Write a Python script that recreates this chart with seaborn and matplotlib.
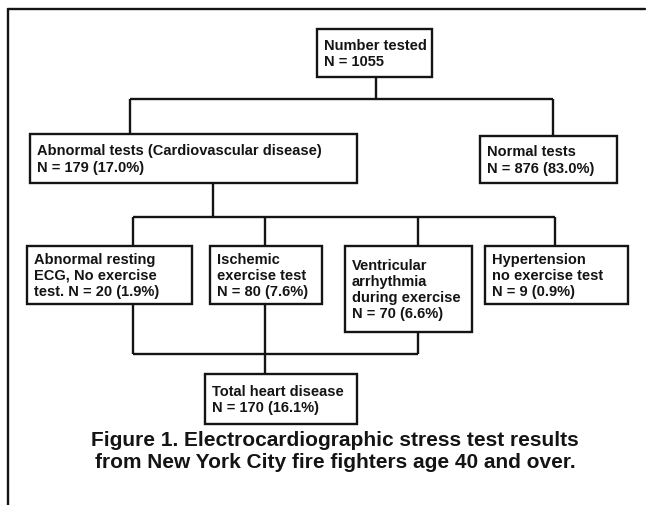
import matplotlib
matplotlib.use("Agg")
import matplotlib.pyplot as plt
from matplotlib.patches import Rectangle
import seaborn as sns

# Flowchart content
node_titles = ["Number tested",
               "Abnormal tests (Cardiovascular disease)",
               "Normal tests",
               "Abnormal resting\nECG, No exercise\ntest.",
               "Ischemic\nexercise test",
               "Ventricular\narrhythmia\nduring exercise",
               "Hypertension\nno exercise test",
               "Total heart disease"]
node_counts = [1055, 179, 876, 20, 80, 70, 9, 170]
node_pcts = [None, 17.0, 83.0, 1.9, 7.6, 6.6, 0.9, 16.1]
caption = ["Figure 1. Electrocardiographic stress test results",
           "from New York City fire fighters age 40 and over."]

sns.set_theme(style='white')
plt.rcParams['font.family'] = ['Liberation Sans', 'DejaVu Sans']

# layout in pixel coordinates: (left, top, right, bottom)
boxes = [(317, 30, 432, 78),
         (30, 135, 357, 184),
         (480, 137, 617, 184),
         (27, 247, 192, 305),
         (210, 247, 322, 305),
         (345, 247, 472, 333),
         (485, 247, 628, 305),
         (205, 375, 357, 425)]
same_line = [False, False, False, True, False, False, False, False]

fig = plt.figure(figsize=(6.52, 5.06), dpi=100)
ax = fig.add_axes([0, 0, 1, 1])
ax.set_xlim(0, 652)
ax.set_ylim(506, 0)
ax.axis('off')

lw = 1.7
ink = '#141414'


def label(i):
    n = f"N = {node_counts[i]}"
    if node_pcts[i] is not None:
        n += f" ({node_pcts[i]:.1f}%)"
    if same_line[i]:
        return node_titles[i] + " " + n
    return node_titles[i] + "\n" + n


for i, (l, t, r, b) in enumerate(boxes):
    ax.add_patch(Rectangle((l, t), r - l, b - t, fill=False, lw=lw, ec=ink))
    ax.text(l + 7, (t + b) / 2, label(i), ha='left', va='center',
            fontsize=10.5, fontweight='bold', color=ink, linespacing=1.2)

# connectors
segs = [
    ((376, 376), (78, 100)),
    ((130, 553), (100, 100)),
    ((130, 130), (100, 135)),
    ((553, 553), (100, 137)),
    ((213, 213), (184, 218)),
    ((133, 555), (218, 218)),
    ((133, 133), (218, 247)),
    ((265, 265), (218, 247)),
    ((418, 418), (218, 247)),
    ((555, 555), (218, 247)),
    ((133, 133), (305, 355)),
    ((133, 418), (355, 355)),
    ((418, 418), (333, 355)),
    ((265, 265), (305, 375)),
]
for xs, ys in segs:
    ax.plot(xs, ys, color=ink, lw=lw, solid_capstyle='butt')

# outer frame (top and left edges)
ax.plot([8, 645], [10, 10], color=ink, lw=lw)
ax.plot([8, 8], [10, 506], color=ink, lw=lw)

ax.text(335, 441, caption[0], ha='center', va='center', fontsize=15,
        fontweight='bold', color=ink)
ax.text(335, 463, caption[1], ha='center', va='center', fontsize=15,
        fontweight='bold', color=ink)

fig.savefig("out.png", dpi=100, facecolor='white')
